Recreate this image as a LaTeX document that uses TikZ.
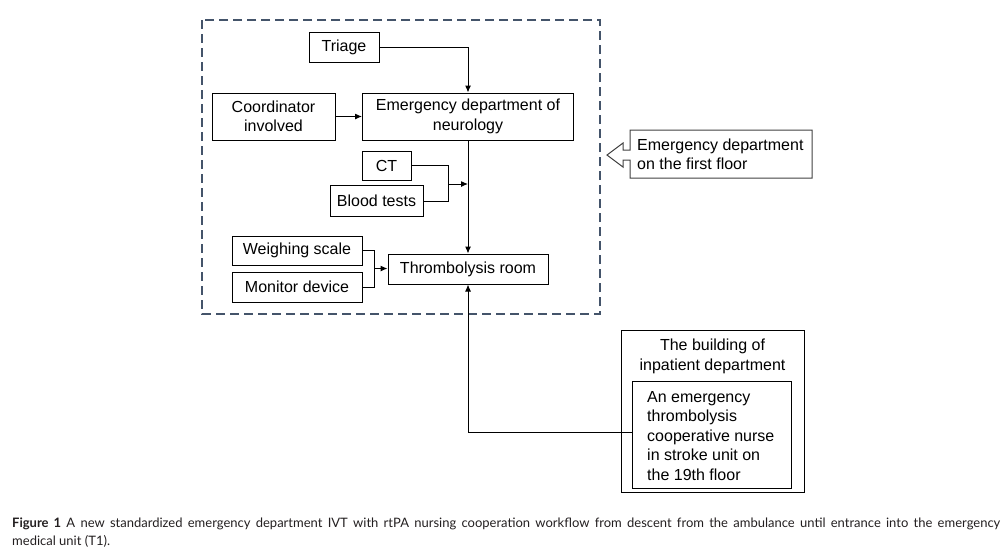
\documentclass[tikz,border=0pt]{standalone}
\usepackage{fontspec}
\setmainfont{Liberation Sans}
\newfontfamily\capfont{Lato}
\usetikzlibrary{arrows.meta}
\definecolor{dashblue}{HTML}{44546A}
\definecolor{captext}{HTML}{231F20}
\tikzset{
  box/.style={draw, line width=1pt, inner sep=0pt, align=center,
    font=\fontsize{16}{19.5}\selectfont},
  plain/.style={inner sep=0pt, font=\fontsize{16}{19.5}\selectfont},
  conn/.style={line width=1pt, -{Latex[length=7pt,width=6pt]}},
  link/.style={line width=1pt},
  frame/.style={draw=dashblue, line width=2.6pt, dash pattern=on 9pt off 5pt},
  captxt/.style={inner sep=0pt, anchor=base west, text=captext, font=\capfont\fontsize{13}{15}\selectfont},
}
\begin{document}
\begin{tikzpicture}[x=1pt,y=-1pt]
\useasboundingbox (0,0) rectangle (1003,550);
% dashed frame
\draw[frame] (202,20) rectangle (600,314);
% nodes
\node[box, minimum width=70pt, minimum height=30pt] (triage) at (344,47) {Triage};
\node[box, minimum width=211pt, minimum height=47pt] (ed) at (468,116.5) {Emergency department of\\neurology};
\node[box, minimum width=123pt, minimum height=47pt] (coord) at (273.5,116.5) {Coordinator\\involved};
\node[box, minimum width=49pt, minimum height=29pt] (ct) at (386.5,165.5) {CT};
\node[box, minimum width=93pt, minimum height=31pt] (blood) at (376.5,201) {Blood tests};
\node[box, minimum width=160pt, minimum height=30pt] (thromb) at (468,269) {Thrombolysis room};
\node[box, minimum width=130pt, minimum height=29pt] (weigh) at (297,250.5) {Weighing scale};
\node[box, minimum width=130pt, minimum height=30pt] (monitor) at (297,287) {Monitor device};
\coordinate (j1) at (448,184);
\coordinate (j2) at (374,268.5);
% building of inpatient department
\node[box, minimum width=183pt, minimum height=162pt] (building) at (712.5,411) {};
\node[plain, align=center] (btitle) at (712.5,356.5) {The building of\\inpatient department};
\node[box, minimum width=159pt, minimum height=107pt] (inner) at (711.5,434.5) {};
\node[plain, align=left, anchor=west] (nurse) at (647,436) {An emergency\\thrombolysis\\cooperative nurse\\in stroke unit on\\the 19th floor};
% callout
\draw[line width=1pt, draw=black!75] (630,130) -- (812,130) -- (812,178) -- (630,178) -- (630,160) -- (623,160) -- (623,167) -- (607,155) -- (623,143) -- (623,150) -- (630,150) -- cycle;
\node[plain, align=left, anchor=west] (callout) at (637,154.5) {Emergency department\\on the first floor};
% connectors
\draw[conn] (triage.east) -| (ed.north);
\draw[conn] (coord.east) -- (ed.west);
\draw[conn] (ed.south) -- (thromb.north);
\draw[link] (ct.east) -| (j1);
\draw[link] (blood.east) -| (j1);
\draw[conn] (j1) -- (j1 -| ed.south);
\draw[link] (weigh.east) -| (j2);
\draw[link] (monitor.east) -| (j2);
\draw[conn] (j2) -- (j2 -| thromb.west);
\draw[conn] (inner.west |- 0,432) -| (thromb.south);
% caption
\node[captxt] (cap1) at (12,527)
  {\makebox[988pt][s]{\textbf{Figure 1} A new standardized emergency department IVT with rtPA nursing cooperation workflow from descent from the ambulance until entrance into the emergency}};
\node[captxt] (cap2) at (12,545) {medical unit (T1).};
\end{tikzpicture}
\end{document}
